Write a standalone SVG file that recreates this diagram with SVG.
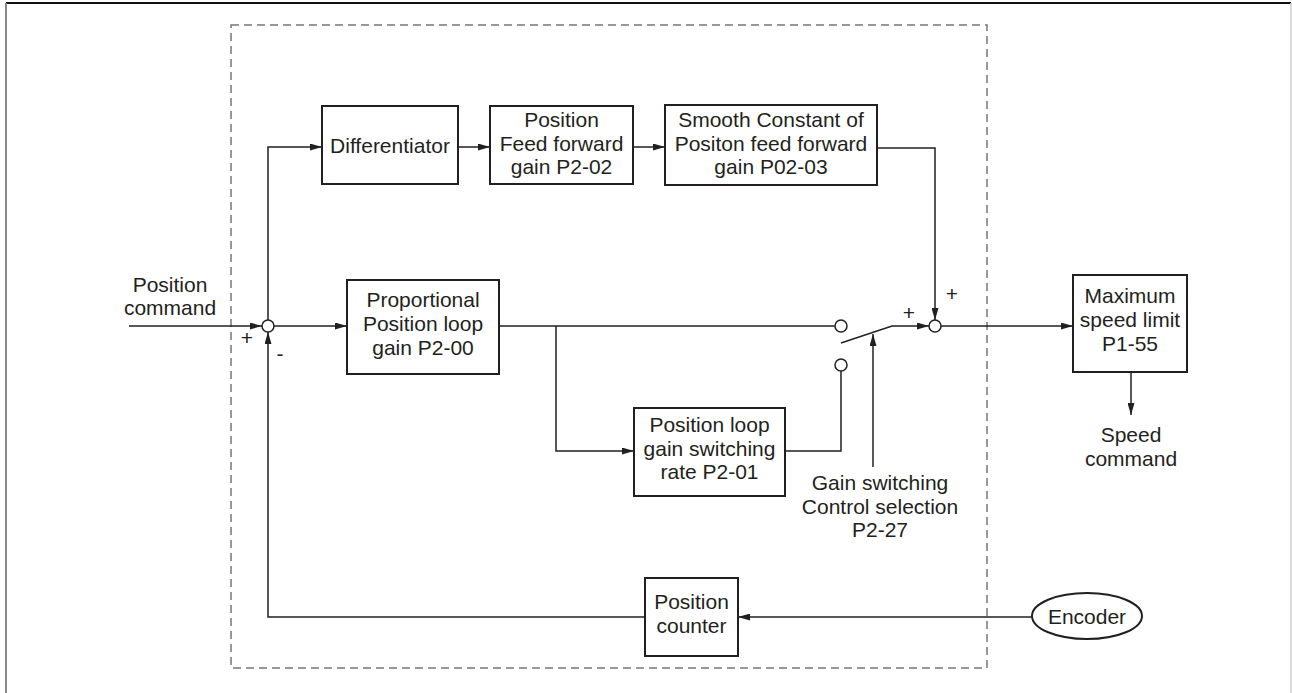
<svg xmlns="http://www.w3.org/2000/svg" width="1292" height="693" viewBox="0 0 1292 693">
<style>
.box{fill:#fff;stroke:#231f20;stroke-width:2}
.ln{fill:none;stroke:#231f20;stroke-width:1.5}
.t{font-family:"Liberation Sans",Arial,sans-serif;font-size:21px;fill:#231f20;text-anchor:middle}
.j{fill:#fff;stroke:#231f20;stroke-width:1.5}
</style>
<defs>
<marker id="ah" viewBox="0 0 12 7" refX="12" refY="3.5" markerWidth="12" markerHeight="7" markerUnits="userSpaceOnUse" orient="auto">
<path d="M0,0 L12,3.5 L0,7 z" fill="#231f20"/>
</marker>
</defs>
<rect x="0" y="0" width="1292" height="693" fill="#fff"/>
<g id="frame">
<line x1="6" y1="3" x2="1291" y2="3" stroke="#111" stroke-width="2"/>
<line x1="6" y1="3" x2="6" y2="693" stroke="#888" stroke-width="2"/>
<line x1="1291" y1="3" x2="1291" y2="693" stroke="#ccc" stroke-width="1.5"/>
<rect x="231" y="25" width="756" height="643" fill="none" stroke="#777" stroke-width="1.5" stroke-dasharray="8 5"/>
</g>
<g id="connectors">
<line class="ln" x1="129" y1="326" x2="262" y2="326" marker-end="url(#ah)"/>
<polyline class="ln" points="268,320 268,147 322,147" marker-end="url(#ah)"/>
<line class="ln" x1="458" y1="147" x2="490" y2="147" marker-end="url(#ah)"/>
<line class="ln" x1="633" y1="147" x2="665" y2="147" marker-end="url(#ah)"/>
<polyline class="ln" points="877,148 935,148 935,320" marker-end="url(#ah)"/>
<line class="ln" x1="274" y1="326" x2="347" y2="326" marker-end="url(#ah)"/>
<line class="ln" x1="499" y1="326" x2="835" y2="326"/>
<polyline class="ln" points="556,326 556,451 634,451" marker-end="url(#ah)"/>
<polyline class="ln" points="785,451 841,451 841,371"/>
<polyline class="ln" points="841,343 892,326 929,326" marker-end="url(#ah)"/>
<line class="ln" x1="873" y1="467" x2="873" y2="334" marker-end="url(#ah)"/>
<line class="ln" x1="941" y1="326" x2="1073" y2="326" marker-end="url(#ah)"/>
<line class="ln" x1="1131" y1="372" x2="1131" y2="415" marker-end="url(#ah)"/>
<line class="ln" x1="1032" y1="617" x2="738" y2="617" marker-end="url(#ah)"/>
<polyline class="ln" points="645,617 268,617 268,332" marker-end="url(#ah)"/>
</g>
<g id="sum1"><circle class="j" cx="268" cy="326" r="6"/></g>
<g id="sum2"><circle class="j" cx="935" cy="326" r="6"/></g>
<g id="contact1"><circle class="j" cx="841" cy="326" r="6"/></g>
<g id="contact2"><circle class="j" cx="841" cy="365" r="6"/></g>
<g id="signs">
<text class="t" x="247" y="345" style="font-size:21px">+</text>
<text class="t" x="280" y="361" style="font-size:21px">-</text>
<text class="t" x="909" y="320" style="font-size:21px">+</text>
<text class="t" x="952" y="301" style="font-size:21px">+</text>
</g>
<g id="poscmd">
<text class="t" x="170" y="292">Position</text>
<text class="t" x="170" y="315">command</text>
</g>
<g id="diff">
<rect class="box" x="322" y="106" width="136" height="78"/>
<text class="t" x="390" y="153">Differentiator</text>
</g>
<g id="pff">
<rect class="box" x="490" y="106" width="143" height="78"/>
<text class="t" x="561.5" y="127">Position</text>
<text class="t" x="561.5" y="151">Feed forward</text>
<text class="t" x="561.5" y="174">gain P2-02</text>
</g>
<g id="smooth">
<rect class="box" x="665" y="105" width="212" height="80"/>
<text class="t" x="771" y="127">Smooth Constant of</text>
<text class="t" x="771" y="151">Positon feed forward</text>
<text class="t" x="771" y="174">gain P02-03</text>
</g>
<g id="prop">
<rect class="box" x="347" y="280" width="152" height="94"/>
<text class="t" x="423" y="307">Proportional</text>
<text class="t" x="423" y="331">Position loop</text>
<text class="t" x="423" y="355">gain P2-00</text>
</g>
<g id="switchrate">
<rect class="box" x="634" y="408" width="151" height="88"/>
<text class="t" x="709.5" y="432">Position loop</text>
<text class="t" x="709.5" y="456">gain switching</text>
<text class="t" x="709.5" y="479">rate P2-01</text>
</g>
<g id="gainsel">
<text class="t" x="880" y="490">Gain switching</text>
<text class="t" x="880" y="514">Control selection</text>
<text class="t" x="880" y="537">P2-27</text>
</g>
<g id="maxspeed">
<rect class="box" x="1073" y="275" width="114" height="97"/>
<text class="t" x="1130" y="303">Maximum</text>
<text class="t" x="1130" y="327">speed limit</text>
<text class="t" x="1130" y="351">P1-55</text>
</g>
<g id="speedcmd">
<text class="t" x="1131" y="442">Speed</text>
<text class="t" x="1131" y="466">command</text>
</g>
<g id="counter">
<rect class="box" x="645" y="578" width="93" height="78"/>
<text class="t" x="691.5" y="609">Position</text>
<text class="t" x="691.5" y="633">counter</text>
</g>
<g id="encoder">
<ellipse cx="1087" cy="616" rx="55" ry="23" fill="#fff" stroke="#231f20" stroke-width="2"/>
<text class="t" x="1087" y="624">Encoder</text>
</g>
</svg>
